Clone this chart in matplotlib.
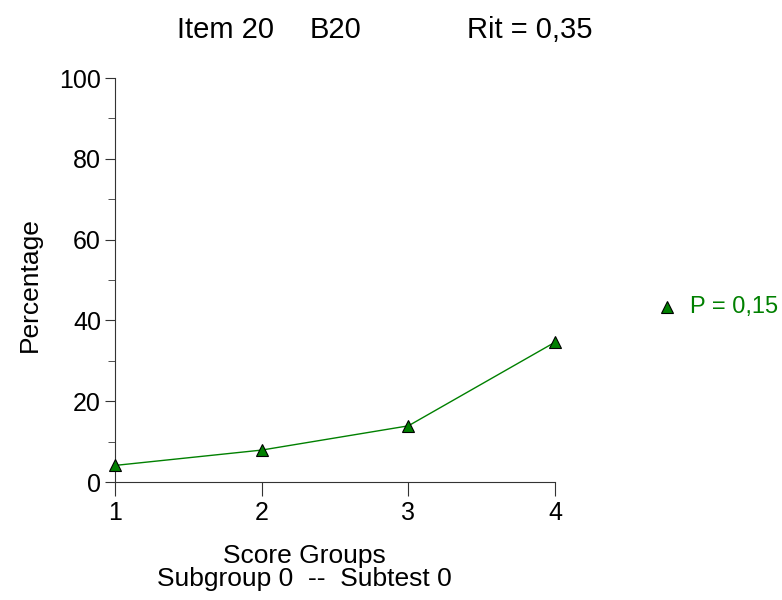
import matplotlib
matplotlib.use("Agg")
import matplotlib.pyplot as plt
from matplotlib.ticker import MultipleLocator

plt.rcParams['font.family'] = ['Liberation Sans', 'DejaVu Sans']

groups = [1, 2, 3, 4]
percent = [4.1, 7.9, 13.9, 34.6]
title_parts = ["Item 20", "B20", "Rit = 0,35"]
legend_label = "P = 0,15"
xlabel = "Score Groups"
sublabel = "Subgroup 0  --  Subtest 0"
ylabel = "Percentage"

W, H = 782, 600
fig = plt.figure(figsize=(W/100, H/100), dpi=100)
ax = fig.add_axes([115/W, 1-482/H, (555-115)/W, (482-78)/H])
green = '#008000'
ax.plot(groups, percent, color=green, lw=1, marker='^', markersize=8.8,
        markerfacecolor=green, markeredgecolor='black', markeredgewidth=0.8,
        clip_on=False, zorder=3)
ax.set_xlim(1, 4)
ax.set_ylim(0, 100)
ax.set_xticks(groups)
ax.yaxis.set_major_locator(MultipleLocator(20))
ax.yaxis.set_minor_locator(MultipleLocator(10))
for s in ['top', 'right']:
    ax.spines[s].set_visible(False)
for s in ['left', 'bottom']:
    ax.spines[s].set_color('#333333')
ax.tick_params(axis='y', which='major', labelsize=18, length=7, color='#333333', pad=3)
ax.tick_params(axis='x', which='major', labelsize=18, length=10, color='#333333', pad=4)
ax.tick_params(axis='y', which='minor', length=5, color='#333333')

fig.text(30/W, 1-285/H, ylabel, fontsize=19, rotation=90, ha='center', va='center')
fig.text(304/W, 1-563/H, xlabel, fontsize=19, ha='center', va='baseline')
fig.text(304/W, 1-586/H, sublabel, fontsize=19, ha='center', va='baseline')
for x0, part in zip([177, 310, 467], title_parts):
    fig.text(x0/W, 1-38/H, part, fontsize=21, ha='left', va='baseline')

fig.lines.append(plt.Line2D([667/W], [1-307/H], transform=fig.transFigure,
                            marker='^', markersize=8, markerfacecolor=green,
                            markeredgecolor='black', markeredgewidth=0.8, linestyle='none'))
fig.text(690/W, 1-313/H, legend_label, fontsize=17, color=green, ha='left', va='baseline')
fig.savefig('out.png', dpi=100)
